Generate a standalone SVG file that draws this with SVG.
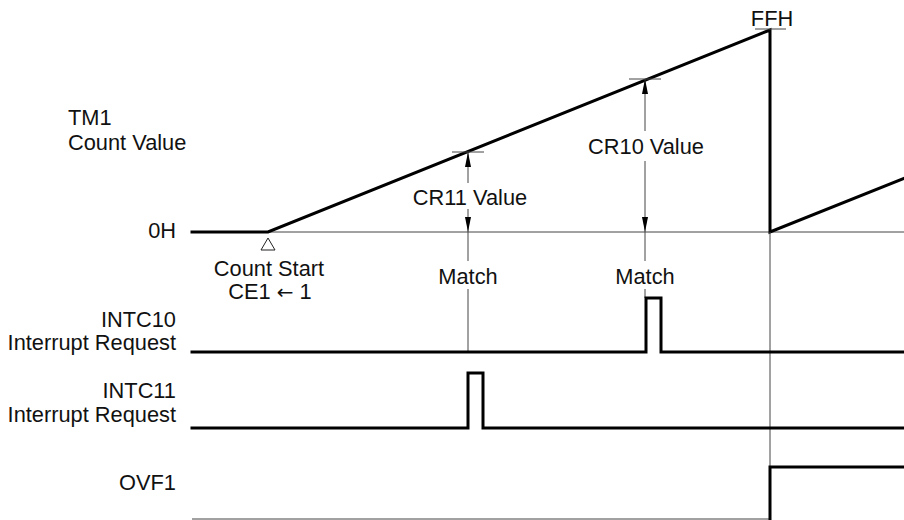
<svg xmlns="http://www.w3.org/2000/svg" width="904" height="520" viewBox="0 0 904 520">
<style>
text{font-family:"Liberation Sans",Arial,sans-serif;font-size:21.8px;fill:#111}
.r{text-anchor:end}
.m{text-anchor:middle}
.arr{font-family:"DejaVu Sans",sans-serif;font-size:20px}
.thin{stroke:#444;stroke-width:1;fill:none}
.thick{stroke:#000;stroke-width:3;fill:none;stroke-linejoin:miter;stroke-linecap:square}
</style>
<defs>
<marker id="ah" viewBox="0 0 15 6" refX="15" refY="3" markerWidth="15" markerHeight="6" markerUnits="userSpaceOnUse" orient="auto">
<path d="M0,0 L15,3 L0,6 z" fill="#000"/>
</marker>
</defs>
<g id="labels">
<text x="68" y="125">TM1</text>
<text x="68" y="150">Count Value</text>
<text class="r" x="176" y="238">0H</text>
<text class="m" x="269" y="276">Count Start</text>
<text class="m" x="270" y="299">CE1 <tspan class="arr">←</tspan> 1</text>
<text class="r" x="176" y="327">INTC10</text>
<text class="r" x="176" y="350">Interrupt Request</text>
<text class="r" x="176" y="398">INTC11</text>
<text class="r" x="176" y="422">Interrupt Request</text>
<text class="r" x="176" y="490">OVF1</text>
<text class="m" x="772" y="26">FFH</text>
<text class="m" x="470" y="205">CR11 Value</text>
<text class="m" x="646" y="154">CR10 Value</text>
<text class="m" x="468" y="284">Match</text>
<text class="m" x="645" y="284">Match</text>
</g>
<g id="tm1">
<line class="thin" x1="192" y1="232" x2="904" y2="232"/>
<polyline class="thick" points="192,232 268,232 770,30 770,232 904,178.4"/>
<line class="thin" x1="755" y1="29" x2="786" y2="29"/>
<path d="M268,238 L261,250 L275,250 z" fill="none" stroke="#222" stroke-width="1"/>
</g>
<g id="connectors">
<line class="thin" x1="452" y1="152" x2="484" y2="152"/>
<line class="thin" x1="629" y1="79" x2="661" y2="79"/>
<line class="thin" x1="468" y1="183" x2="468" y2="152" marker-end="url(#ah)"/>
<line class="thin" x1="468" y1="209" x2="468" y2="232" marker-end="url(#ah)"/>
<line class="thin" x1="468" y1="232" x2="468" y2="261"/>
<line class="thin" x1="468" y1="289" x2="468" y2="352"/>
<line class="thin" x1="645" y1="131" x2="645" y2="79" marker-end="url(#ah)"/>
<line class="thin" x1="645" y1="161" x2="645" y2="232" marker-end="url(#ah)"/>
<line class="thin" x1="645" y1="232" x2="645" y2="261"/>
<line class="thin" x1="645" y1="289" x2="645" y2="298"/>
<line class="thin" x1="770" y1="232" x2="770" y2="519"/>
</g>
<g id="intc10">
<polyline class="thick" points="192,352 646,352 646,298 661,298 661,352 904,352"/>
</g>
<g id="intc11">
<polyline class="thick" points="192,428 468,428 468,373 483,373 483,428 904,428"/>
</g>
<g id="ovf1">
<line class="thin" x1="192" y1="519" x2="770" y2="519"/>
<polyline class="thick" points="770,519 770,467 904,467"/>
</g>
</svg>
